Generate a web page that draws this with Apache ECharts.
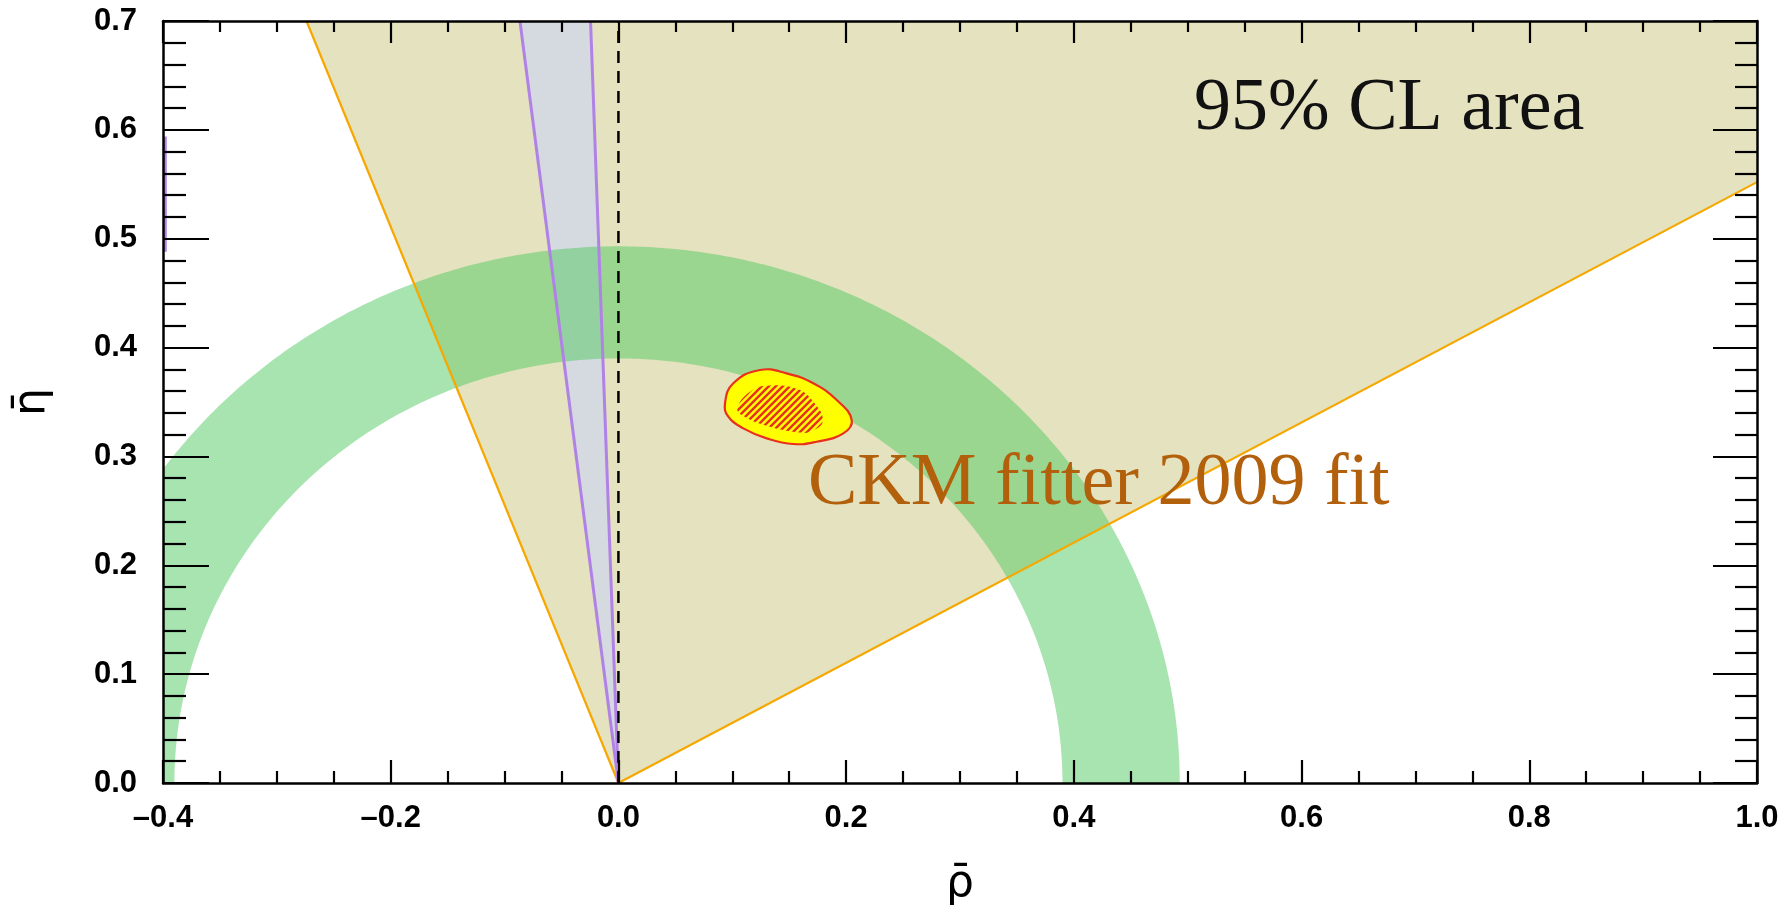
<!DOCTYPE html>
<html>
<head>
<meta charset="utf-8">
<script src="https://cdn.jsdelivr.net/npm/echarts@6/dist/echarts.min.js"></script>
<style>
  html, body { margin: 0; padding: 0; background: #ffffff; }
  #chart { width: 1791px; height: 913px; }
</style>
</head>
<body>
<div id="chart"></div>
<script>
// Tick labels of the two axes
const rhoTickLabels = ['\u20130.4', '\u20130.2', '0.0', '0.2', '0.4', '0.6', '0.8', '1.0'];
const etaTickLabels = ['0.0', '0.1', '0.2', '0.3', '0.4', '0.5', '0.6', '0.7'];

// Gamma constraint: wedge from the origin between two rays
const gammaLeftEdge = [[0, 0], [-0.274, 0.7]];
const gammaRightEdge = [[0, 0], [1.0, 0.552]];
const gammaRegion = [[0, 0], [-0.274, 0.7], [1.0, 0.7], [1.0, 0.552]];

// Alpha constraint: narrow wedge just left of rho = 0
const alphaLeftEdge = [[0, 0], [-0.0865, 0.7]];
const alphaRightEdge = [[0, 0], [-0.0245, 0.7]];
const alphaRegion = [[0, 0], [-0.0865, 0.7], [-0.0245, 0.7]];
const alphaStub = [[-0.398, 0.488], [-0.398, 0.594]];

// |Vub/Vcb| ring around the origin: inner and outer radius
const vubRadii = [0.39, 0.493];

// Global fit: outer contour and hatched inner contour
const fitOuter = [
  [0.0936, 0.3488], [0.1009, 0.3672], [0.1243, 0.3794], [0.1478, 0.3763],
  [0.1711, 0.3672], [0.1917, 0.3518], [0.2049, 0.3335], [0.1975, 0.3212],
  [0.1741, 0.3135], [0.1536, 0.3114], [0.1302, 0.3166], [0.1097, 0.3258],
  [0.0965, 0.3365]
];
const fitInner = [
  [0.1045, 0.3445], [0.1150, 0.3590], [0.1302, 0.3650], [0.1570, 0.3620],
  [0.1710, 0.3505], [0.1795, 0.3330], [0.1705, 0.3235], [0.1595, 0.3220],
  [0.1302, 0.3282], [0.1090, 0.3375]
];

// Vertical reference line at rho = 0
const zeroLine = [[0, 0], [0, 0.7]];

const COLORS = {
  gammaFill: '#e4e2bf',
  gammaLine: '#f6a800',
  alphaFill: '#d5d9e0',
  alphaLine: '#b182e6',
  ring: 'rgba(81, 201, 97, 0.5)',
  fitFill: '#ffff00',
  fitLine: '#e8301c',
  fitText: '#b3600d'
};

function hatchPattern(color, size, width) {
  const c = document.createElement('canvas');
  c.width = size; c.height = size;
  const g = c.getContext('2d');
  g.strokeStyle = color;
  g.lineWidth = width;
  g.beginPath();
  g.moveTo(0, size); g.lineTo(size, 0);
  g.moveTo(-2, 2); g.lineTo(2, -2);
  g.moveTo(size - 2, size + 2); g.lineTo(size + 2, size - 2);
  g.stroke();
  return c;
}

function polygonSeries(points, style, z, smooth) {
  return {
    type: 'custom',
    z: z,
    clip: true,
    silent: true,
    data: [points[0]],
    renderItem: function (params, api) {
      return {
        type: 'polygon',
        shape: { points: points.map(p => api.coord(p)), smooth: smooth || 0 },
        style: style
      };
    }
  };
}

function lineSeries(data, color, width, z, dash) {
  return {
    type: 'line',
    z: z,
    data: data,
    showSymbol: false,
    symbol: 'none',
    silent: true,
    lineStyle: { color: color, width: width, type: dash || 'solid' }
  };
}

const ringSeries = {
  type: 'custom',
  z: 3,
  clip: true,
  silent: true,
  data: [vubRadii],
  renderItem: function (params, api) {
    const r0 = api.value(0), r1 = api.value(1);
    const n = 360, pts = [];
    for (let i = 0; i <= n; i++) {
      const t = Math.PI * i / n;
      pts.push(api.coord([r1 * Math.cos(t), r1 * Math.sin(t)]));
    }
    for (let i = n; i >= 0; i--) {
      const t = Math.PI * i / n;
      pts.push(api.coord([r0 * Math.cos(t), r0 * Math.sin(t)]));
    }
    return { type: 'polygon', shape: { points: pts }, style: { fill: COLORS.ring } };
  }
};

const tickLabelStyle = {
  fontFamily: 'Liberation Sans', fontWeight: 'bold', fontSize: 31, color: '#000'
};

const axisNameStyle = { fontFamily: 'DejaVu Sans', fontSize: 44, color: '#000' };

function xAxisDef(top) {
  return {
    type: 'value', min: -0.4, max: 1.0, interval: 0.2,
    position: top ? 'top' : 'bottom',
    z: 10,
    axisLine: { show: true, onZero: false, lineStyle: { color: '#000', width: 2.5 } },
    axisTick: { show: true, inside: true, length: top ? 22 : 23, lineStyle: { color: '#000', width: 2.2 } },
    minorTick: { show: true, splitNumber: 4, length: top ? 11 : 12, lineStyle: { color: '#000', width: 2.2 } },
    splitLine: { show: false },
    minorSplitLine: { show: false },
    axisLabel: top ? { show: false } : Object.assign({
      margin: 20,
      formatter: v => rhoTickLabels[Math.round((v + 0.4) / 0.2)]
    }, tickLabelStyle),
    name: top ? '' : '\u03C1\u0304',
    nameLocation: 'middle',
    nameGap: 80,
    nameTextStyle: axisNameStyle
  };
}

function yAxisDef(right) {
  return {
    type: 'value', min: 0, max: 0.7, interval: 0.1,
    position: right ? 'right' : 'left',
    z: 10,
    axisLine: { show: true, onZero: false, lineStyle: { color: '#000', width: 2.5 } },
    axisTick: { show: true, inside: true, length: right ? 44 : 46, lineStyle: { color: '#000', width: 2.2 } },
    minorTick: { show: true, splitNumber: 5, length: right ? 22 : 23, lineStyle: { color: '#000', width: 2.2 } },
    splitLine: { show: false },
    minorSplitLine: { show: false },
    axisLabel: right ? { show: false } : Object.assign({
      margin: 26,
      formatter: v => etaTickLabels[Math.round(v / 0.1)]
    }, tickLabelStyle),
    name: right ? '' : '\u03B7\u0304',
    nameLocation: 'middle',
    nameRotate: 90,
    nameGap: 108,
    nameTextStyle: axisNameStyle
  };
}

const chart = echarts.init(document.getElementById('chart'), null, { renderer: 'canvas' });

chart.setOption({
  animation: false,
  backgroundColor: '#ffffff',
  grid: { left: 163, right: 34, top: 21, bottom: 130 },
  xAxis: [xAxisDef(false), xAxisDef(true)],
  yAxis: [yAxisDef(false), yAxisDef(true)],
  series: [
    polygonSeries(gammaRegion, { fill: COLORS.gammaFill }, 1),
    polygonSeries(alphaRegion, { fill: COLORS.alphaFill }, 2),
    ringSeries,
    lineSeries(gammaLeftEdge, COLORS.gammaLine, 2.2, 4),
    lineSeries(gammaRightEdge, COLORS.gammaLine, 2.2, 4),
    lineSeries(alphaLeftEdge, COLORS.alphaLine, 3, 4),
    lineSeries(alphaRightEdge, COLORS.alphaLine, 3, 4),
    lineSeries(alphaStub, COLORS.alphaLine, 3, 4),
    lineSeries(zeroLine, '#000', 2.5, 5, [12, 8]),
    polygonSeries(fitOuter, { fill: COLORS.fitFill, stroke: COLORS.fitLine, lineWidth: 2.2 }, 6, 0.45),
    polygonSeries(fitInner, {
      fill: { image: hatchPattern(COLORS.fitLine, 7, 2.4), repeat: 'repeat' }
    }, 7, 0.45)
  ],
  graphic: [
    {
      type: 'text', x: 1194, y: 110, z: 20, silent: true,
      style: {
        text: '95% CL area', font: '74px "Liberation Serif"', fill: '#111',
        align: 'left', verticalAlign: 'middle'
      }
    },
    {
      type: 'text', x: 808, y: 485, z: 20, silent: true,
      style: {
        text: 'CKM fitter 2009 fit', font: '74px "Liberation Serif"', fill: COLORS.fitText,
        align: 'left', verticalAlign: 'middle'
      }
    }
  ]
});
</script>
</body>
</html>
